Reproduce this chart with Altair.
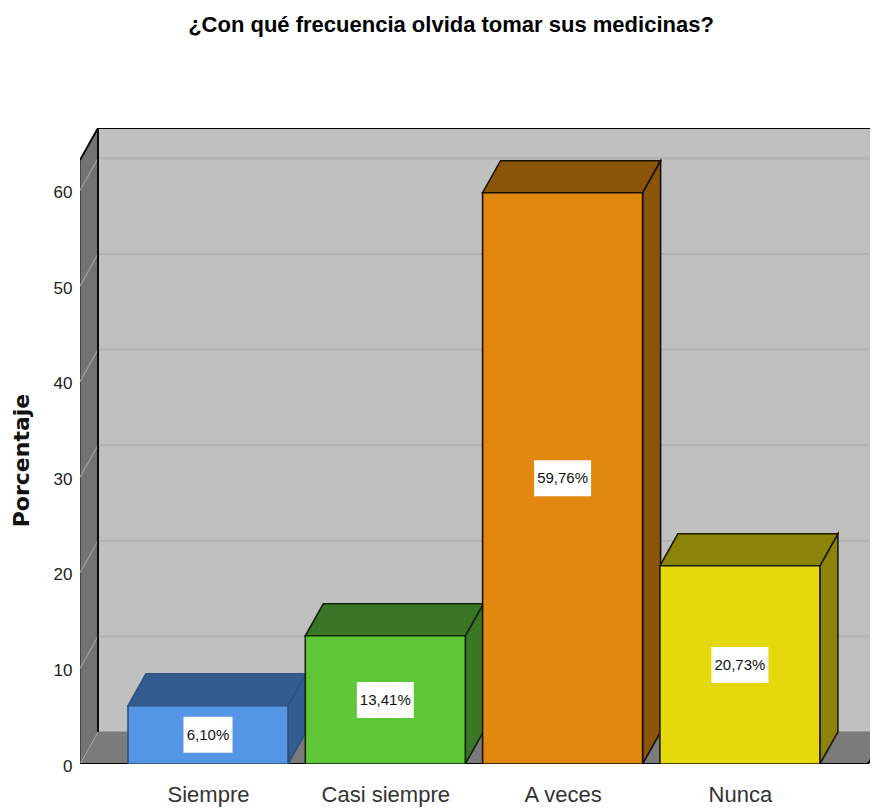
import json
import altair as alt
import pandas as pd

title = "¿Con qué frecuencia olvida tomar sus medicinas?"
categories = ["Siempre", "Casi siempre", "A veces", "Nunca"]
values = [6.10, 13.41, 59.76, 20.73]
labels = ["6,10%", "13,41%", "59,76%", "20,73%"]
front_colors = ["#5595E6", "#5FC636", "#E0880F", "#E5D90E"]
dark_colors = ["#345C90", "#3B7526", "#8A5509", "#8C830A"]
edge_colors = ["#2F5180", "#12240C", "#1A1000", "#1C1A02"]
y_ticks = [0, 10, 20, 30, 40, 50, 60]

FONT = "Liberation Sans"
PX_X = 177.3
PX_Y = 9.56
HALF = 80 / PX_X
DX = 18 / PX_X
DY = 32 / PX_Y
X_MIN = (80 - 208) / PX_X
X_MAX = (870 - 208) / PX_X
X_FLOOR = (868 - 208) / PX_X
Y_WALL = 604 / PX_Y
Y_MAX = Y_WALL + DY

xs = alt.Scale(domain=[X_MIN, X_MAX], nice=False, zero=False)
ys = alt.Scale(domain=[0, Y_MAX], nice=False, zero=False)


def X(axis=None):
    return alt.X("x:Q", scale=xs, axis=axis, title=None)


def Y(axis=None):
    return alt.Y("y:Q", scale=ys, axis=axis, title=None)


Y2 = alt.Y2("y2:Q")


def poly(pts, fill, stroke, width=1.6):
    df = pd.DataFrame(pts, columns=["x", "y", "y2"])
    return (
        alt.Chart(df)
        .mark_area(fill=fill, stroke=stroke, strokeWidth=width, clip=True, opacity=1, interpolate="linear")
        .encode(x=X(), y=Y(), y2=Y2)
    )


def segment(pts, color, width):
    df = pd.DataFrame(pts, columns=["k", "x", "y"])
    return (
        alt.Chart(df)
        .mark_line(color=color, strokeWidth=width, clip=True)
        .encode(x=X(), y=Y(), detail="k:N", order="x:Q")
    )


def top_face(x0, x1, v, fill, stroke, width=1.6):
    return poly(
        [(x0, v, v), (x0 + DX, v, v + DY), (x1, v, v + DY), (x1 + DX, v + DY, v + DY)],
        fill,
        stroke,
        width,
    )


x_axis = alt.Axis(
    values=list(range(len(categories))),
    labelExpr=json.dumps(categories) + "[datum.value]",
    domain=False,
    ticks=False,
    grid=False,
    labelFont=FONT,
    labelFontSize=22,
    labelColor="#333333",
    labelPadding=20,
    labelOverlap=False,
    labelFlush=False,
    title=None,
)
y_axis = alt.Axis(
    values=y_ticks,
    format="d",
    domain=False,
    ticks=False,
    grid=False,
    labelFont=FONT,
    labelFontSize=17,
    labelColor="#222222",
    labelPadding=8,
    labelOffset=2,
    labelOverlap=False,
    labelFlush=False,
    title="Porcentaje",
    titleFont="DejaVu Sans",
    titleFontSize=22,
    titleFontWeight="bold",
    titleColor="#111111",
    titleX=-47,
    titleY=332,
)

layers = []

# back wall carries the axes
wall_df = pd.DataFrame(
    [(X_MIN + DX, DY, Y_MAX), (X_MAX + 1, DY, Y_MAX)], columns=["x", "y", "y2"]
)
layers.append(
    alt.Chart(wall_df)
    .mark_area(fill="#C0C0C0", clip=True, interpolate="linear")
    .encode(x=X(x_axis), y=Y(y_axis), y2=Y2)
)
layers.append(
    poly(
        [(X_MIN, 0, Y_WALL), (X_MIN + DX, DY, Y_WALL + DY)],
        "#737373",
        "#2A2A2A",
        1.2,
    )
)
layers.append(top_face(X_MIN, X_FLOOR, 0, "#7B7B7B", "#7B7B7B", 1))

# grid lines on both walls
back_grid = []
side_grid = []
for t in y_ticks:
    side_grid += [(t, X_MIN, t), (t, X_MIN + DX, t + DY)]
    if t > 0:
        back_grid += [(t, X_MIN + DX, t + DY), (t, X_MAX, t + DY)]
layers.append(segment(back_grid, "#B2B2B2", 2))
layers.append(segment(side_grid, "#A0A0A0", 1.2))

# frame edges
layers.append(
    segment(
        [
            ("a", X_MIN + DX, DY),
            ("a", X_MIN + DX + 1e-6, Y_MAX),
            ("b", X_MIN + DX, Y_MAX),
            ("b", X_MAX, Y_MAX),
            ("c", X_MIN, Y_WALL),
            ("c", X_MIN + DX, Y_MAX),
            ("d", X_MIN, 0),
            ("d", X_FLOOR, 0),
            ("e", X_FLOOR, 0),
            ("e", X_FLOOR + DX, DY),
        ],
        "#000000",
        1.8,
    )
)

# bars
for i, v in enumerate(values):
    x0, x1 = i - HALF, i + HALF
    layers.append(poly([(x1, 0, v), (x1 + DX, DY, v + DY)], dark_colors[i], edge_colors[i]))
    layers.append(top_face(x0, x1, v, dark_colors[i], edge_colors[i]))
    layers.append(poly([(x0, 0, v), (x1, 0, v)], front_colors[i], edge_colors[i]))

# value labels
box_h = 18 / PX_Y
label_df = pd.DataFrame(
    {
        "x": list(range(len(categories))),
        "y": [v / 2 for v in values],
        "label": labels,
    }
)
label_df["x0"] = [i - (8 * len(s) + 9) / 2 / PX_X for i, s in enumerate(labels)]
label_df["x1"] = [i + (8 * len(s) + 9) / 2 / PX_X for i, s in enumerate(labels)]
label_df["y0"] = label_df["y"] - box_h
label_df["y1"] = label_df["y"] + box_h
layers.append(
    alt.Chart(label_df)
    .mark_rect(fill="#FFFFFF")
    .encode(
        x=alt.X("x0:Q", scale=xs, axis=None, title=None),
        x2="x1:Q",
        y=alt.Y("y0:Q", scale=ys, axis=None, title=None),
        y2="y1:Q",
    )
)
layers.append(
    alt.Chart(label_df)
    .mark_text(font=FONT, fontSize=15, color="#111111", baseline="middle", align="center")
    .encode(x=X(), y=Y(), text="label:N")
)

chart = (
    alt.layer(*layers)
    .resolve_axis(x="independent", y="independent")
    .properties(
        width=790,
        height=636,
        padding={"left": 72, "top": 120, "right": 0, "bottom": 45},
        autosize=alt.AutoSizeParams(type="none"),
        background="#FFFFFF",
        title=alt.TitleParams(
            title,
            font=FONT,
            fontSize=22,
            fontWeight="bold",
            color="#000000",
            anchor="middle",
            dx=-24,
            offset=91,
        ),
    )
    .configure_view(stroke=None)
)

chart.save("out.html", embed_options={"renderer": "svg", "actions": False})
